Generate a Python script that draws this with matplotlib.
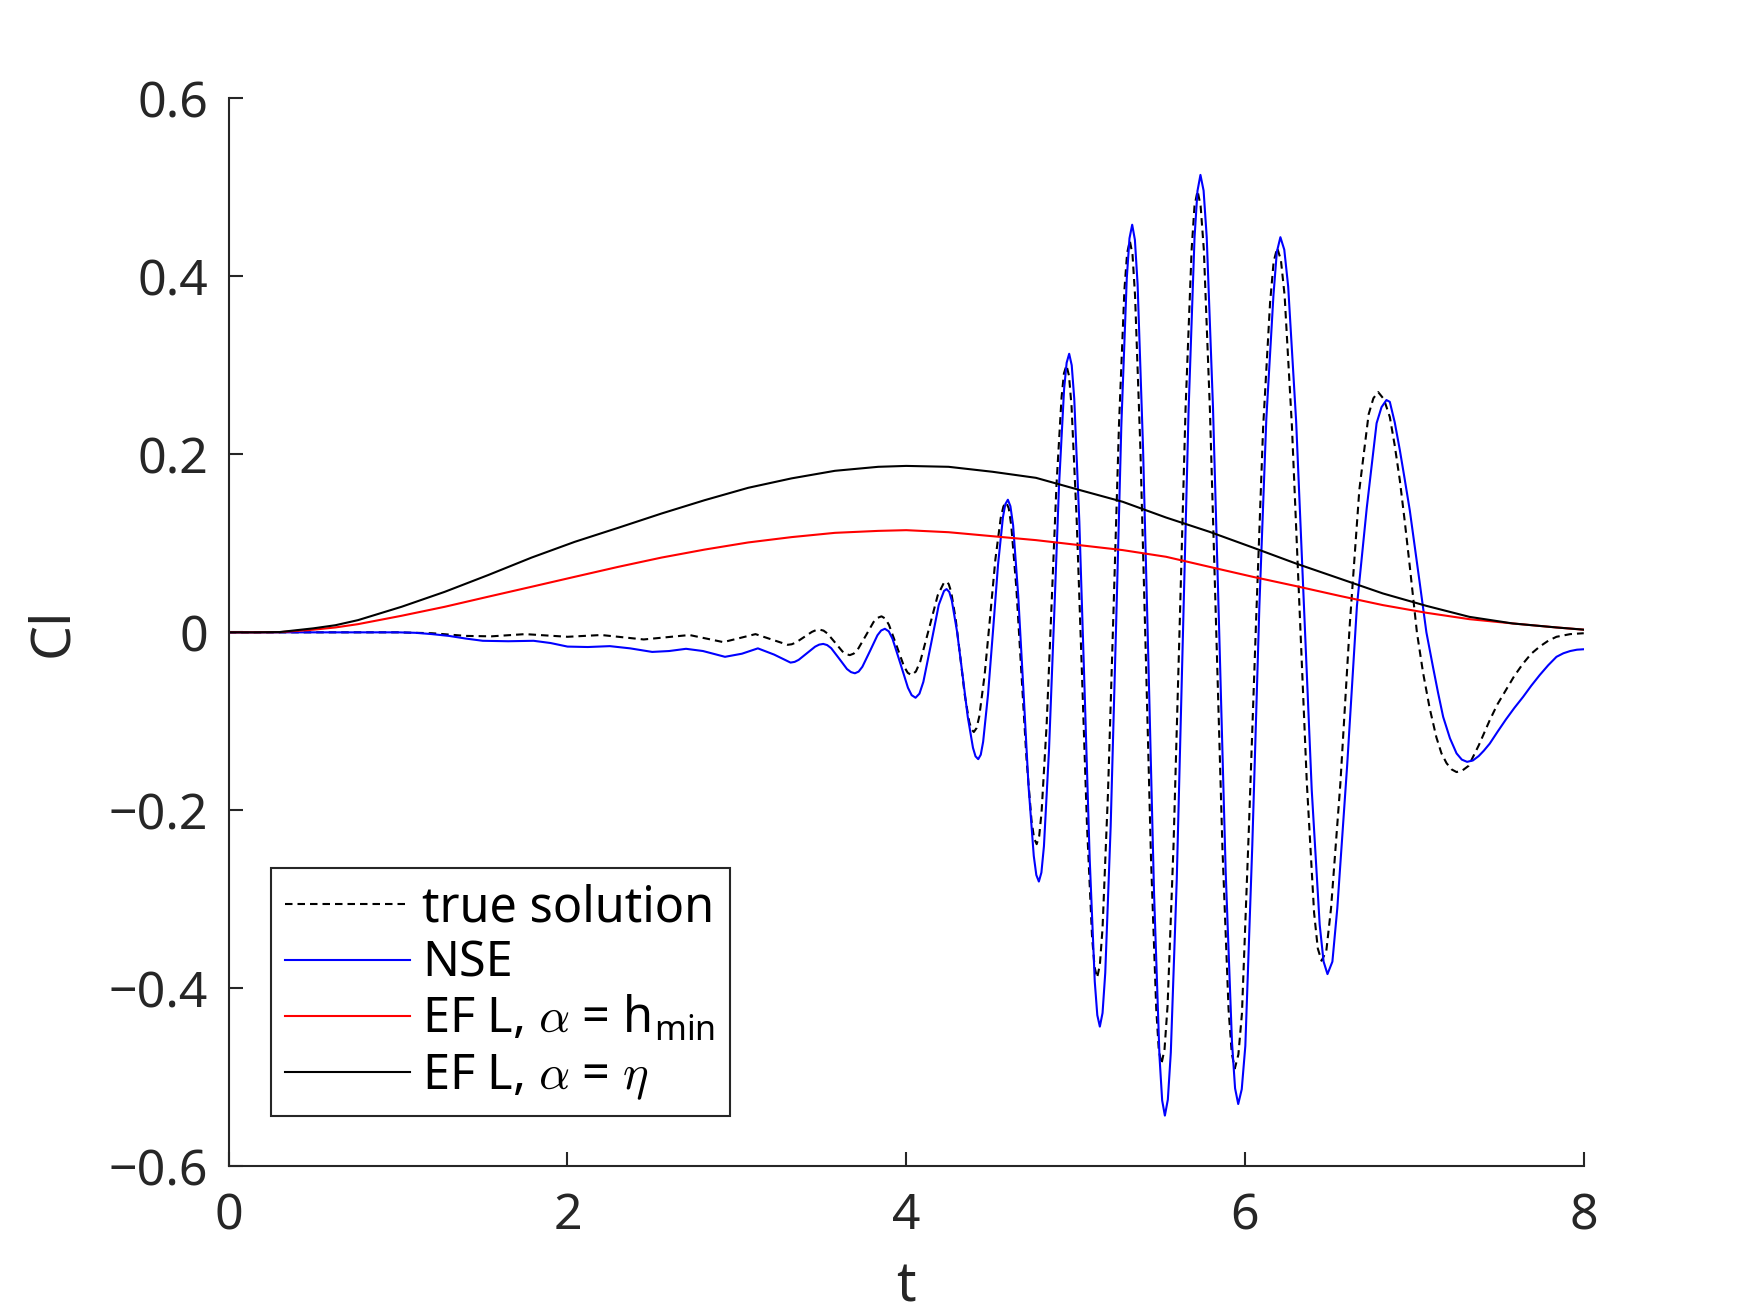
import matplotlib
matplotlib.use("Agg")
import matplotlib.pyplot as plt

# ---------------- data ----------------
# NSE (blue) : (t, Cl) samples
nse_pts = [
    (0, 0), (0.5, 0), (1.0, 0), (1.1, -0.0005), (1.2, -0.002), (1.3, -0.004), (1.4, -0.007), (1.5, -0.0095),
    (1.65, -0.010), (1.8, -0.0095), (1.9, -0.012), (2.0, -0.016), (2.12, -0.0165), (2.25, -0.0155),
    (2.37, -0.018), (2.5, -0.022), (2.6, -0.021), (2.7, -0.0185), (2.8, -0.021), (2.93, -0.0275),
    (3.03, -0.024), (3.124, -0.018), (3.22, -0.025), (3.317, -0.034), (3.341, -0.0332), (3.365, -0.0309),
    (3.414, -0.0235), (3.462, -0.0161), (3.486, -0.0138), (3.51, -0.013), (3.533, -0.0143),
    (3.557, -0.0178), (3.604, -0.0295), (3.650, -0.0412), (3.674, -0.0447), (3.697, -0.046),
    (3.719, -0.0441), (3.741, -0.0387), (3.786, -0.021), (3.830, -0.0033), (3.852, 0.0021), (3.874, 0.004),
    (3.897, 0.0011), (3.919, -0.0073), (3.965, -0.0348), (4.010, -0.0622), (4.032, -0.0706),
    (4.055, -0.0735), (4.078, -0.0689), (4.101, -0.0557), (4.147, -0.0125), (4.192, 0.0308),
    (4.223, 0.0465), (4.238, 0.0486), (4.254, 0.0454), (4.269, 0.0358), (4.300, 0.0008), (4.332, -0.0470),
    (4.363, -0.0947), (4.394, -0.1297), (4.409, -0.1393), (4.425, -0.1425), (4.440, -0.1375),
    (4.454, -0.1230), (4.483, -0.0696), (4.513, 0.0033), (4.542, 0.0761), (4.571, 0.1295), (4.585, 0.144),
    (4.600, 0.149), (4.615, 0.1417), (4.631, 0.1203), (4.661, 0.0417), (4.692, -0.0655), (4.722, -0.1728),
    (4.753, -0.2513), (4.768, -0.2727), (4.783, -0.280), (4.798, -0.2699), (4.813, -0.2403),
    (4.843, -0.1318), (4.873, 0.0165), (4.902, 0.1648), (4.932, 0.2733), (4.947, 0.3029), (4.962, 0.313),
    (4.977, 0.3001), (4.992, 0.2623), (5.022, 0.124), (5.053, -0.065), (5.083, -0.254), (5.113, -0.3923),
    (5.128, -0.4301), (5.143, -0.443), (5.159, -0.4277), (5.175, -0.3826), (5.207, -0.2177),
    (5.239, 0.0075), (5.270, 0.2328), (5.302, 0.3976), (5.318, 0.4427), (5.334, 0.458), (5.350, 0.441),
    (5.366, 0.3909), (5.398, 0.2077), (5.431, -0.0425), (5.463, -0.2928), (5.495, -0.4759),
    (5.511, -0.526), (5.527, -0.543), (5.5445, -0.525), (5.562, -0.4722), (5.597, -0.2787),
    (5.632, -0.0145), (5.667, 0.2498), (5.702, 0.4432), (5.7195, 0.496), (5.737, 0.514), (5.7556, 0.4963),
    (5.774, 0.4441), (5.811, 0.253), (5.849, -0.008), (5.886, -0.269), (5.923, -0.460), (5.9414, -0.5123),
    (5.960, -0.530), (5.9808, -0.5134), (6.002, -0.4647), (6.043, -0.24), (6.085, 0.03), (6.126, 0.24),
    (6.168, 0.3787), (6.188, 0.4274), (6.209, 0.444), (6.232, 0.4299), (6.255, 0.3885), (6.302, 0.237),
    (6.348, 0.030), (6.394, -0.177), (6.441, -0.3285), (6.464, -0.3699), (6.487, -0.384), (6.516, -0.370),
    (6.545, -0.31), (6.603, -0.15), (6.661, 0.03), (6.719, 0.14), (6.777, 0.235), (6.806, 0.253),
    (6.835, 0.261), (6.855, 0.259), (6.884, 0.236), (6.914, 0.205), (6.943, 0.172), (6.973, 0.137),
    (7.002, 0.097), (7.032, 0.055), (7.071, 0.0), (7.11, -0.039), (7.14, -0.068), (7.17, -0.095),
    (7.21, -0.119), (7.249, -0.136), (7.28, -0.143), (7.311, -0.1455), (7.345, -0.144), (7.38, -0.139),
    (7.41, -0.133), (7.445, -0.125), (7.49, -0.112), (7.54, -0.098), (7.59, -0.085), (7.642, -0.0725),
    (7.69, -0.060), (7.74, -0.048), (7.79, -0.037), (7.839, -0.0275), (7.88, -0.0235), (7.92, -0.021),
    (7.96, -0.0195), (8.0, -0.019),
]

# true solution (black dashed) : (t, Cl) samples
true_pts = [
    (0, 0), (0.5, 0), (1.0, 0), (1.2, -0.001), (1.4, -0.004), (1.55, -0.0045), (1.75, -0.002), (2.0, -0.005),
    (2.2, -0.003), (2.45, -0.008), (2.72, -0.003), (2.92, -0.011), (3.11, -0.002), (3.30, -0.014),
    (3.324, -0.0134), (3.348, -0.0115), (3.395, -0.0055), (3.443, 0.0005), (3.466, 0.0024), (3.49, 0.003),
    (3.512, 0.0019), (3.534, -0.0012), (3.579, -0.0113), (3.623, -0.0214), (3.645, -0.0245),
    (3.667, -0.0256), (3.690, -0.0239), (3.714, -0.0192), (3.761, -0.0038), (3.807, 0.0116),
    (3.831, 0.0163), (3.854, 0.018), (3.876, 0.0155), (3.898, 0.0084), (3.943, -0.015), (3.987, -0.0384),
    (4.009, -0.0455), (4.031, -0.048), (4.057, -0.044), (4.083, -0.0327), (4.135, 0.0045),
    (4.186, 0.0417), (4.221, 0.0552), (4.238, 0.057), (4.251, 0.0541), (4.265, 0.0457), (4.292, 0.0147),
    (4.319, -0.0275), (4.345, -0.0698), (4.372, -0.1007), (4.386, -0.1091), (4.399, -0.112),
    (4.415, -0.1076), (4.431, -0.0947), (4.463, -0.0475), (4.495, 0.017), (4.526, 0.0815), (4.558, 0.1287),
    (4.574, 0.1416), (4.59, 0.146), (4.605, 0.1395), (4.62, 0.1203), (4.65, 0.050), (4.68, -0.046),
    (4.71, -0.142), (4.74, -0.2123), (4.755, -0.2315), (4.77, -0.238), (4.785, -0.2289), (4.799, -0.202),
    (4.829, -0.1035), (4.858, 0.031), (4.887, 0.1655), (4.917, 0.264), (4.931, 0.2909), (4.946, 0.300),
    (4.961, 0.2883), (4.976, 0.2539), (5.006, 0.128), (5.037, -0.044), (5.067, -0.216), (5.097, -0.3419),
    (5.112, -0.3763), (5.127, -0.388), (5.143, -0.3739), (5.159, -0.3325), (5.191, -0.181), (5.224, 0.026),
    (5.256, 0.233), (5.288, 0.3845), (5.304, 0.4259), (5.32, 0.440), (5.336, 0.4243), (5.351, 0.378),
    (5.382, 0.2087), (5.414, -0.0225), (5.445, -0.2538), (5.476, -0.423), (5.491, -0.4693), (5.507, -0.485),
    (5.525, -0.4683), (5.543, -0.4193), (5.578, -0.2397), (5.614, 0.0055), (5.649, 0.2508), (5.685, 0.4303),
    (5.702, 0.4793), (5.720, 0.496), (5.738, 0.4792), (5.757, 0.4299), (5.793, 0.2495), (5.830, 0.003),
    (5.867, -0.2435), (5.903, -0.4239), (5.922, -0.4732), (5.940, -0.490), (5.961, -0.4743),
    (5.982, -0.4282), (6.023, -0.22), (6.065, 0.01), (6.107, 0.23), (6.148, 0.3702), (6.169, 0.4163),
    (6.19, 0.432), (6.212, 0.4184), (6.234, 0.3783), (6.277, 0.2317), (6.321, 0.0315), (6.365, -0.1688),
    (6.408, -0.3153), (6.430, -0.3554), (6.452, -0.369), (6.480, -0.3581), (6.508, -0.31), (6.563, -0.17),
    (6.619, 0.01), (6.675, 0.16), (6.730, 0.245), (6.758, 0.263), (6.786, 0.270), (6.82, 0.262),
    (6.855, 0.242), (6.884, 0.21), (6.914, 0.171), (6.943, 0.125), (6.973, 0.074), (7.015, 0.0),
    (7.051, -0.045), (7.09, -0.085), (7.13, -0.118), (7.16, -0.136), (7.19, -0.147), (7.22, -0.154),
    (7.249, -0.157), (7.285, -0.155), (7.32, -0.150), (7.38, -0.127), (7.445, -0.0987), (7.49, -0.081),
    (7.54, -0.065), (7.59, -0.049), (7.642, -0.035), (7.69, -0.024), (7.74, -0.016), (7.79, -0.0095),
    (7.839, -0.005), (7.92, -0.002), (8.0, -0.001),
]

t_ef = [0, 0.15, 0.3, 0.5, 0.63, 0.763, 1.02, 1.275, 1.531, 1.788, 2.043, 2.30, 2.555, 2.81, 3.067, 3.323,
        3.579, 3.835, 4.0, 4.25, 4.51, 4.766, 5.022, 5.278, 5.534, 5.79, 6.046, 6.30, 6.558, 6.814, 7.07,
        7.325, 7.58, 7.838, 8.0]
cl_hmin = [0, 0, 0.0002, 0.003, 0.0055, 0.0092, 0.0186, 0.0287, 0.040, 0.0512, 0.0624, 0.0736, 0.084, 0.093,
           0.101, 0.107, 0.1118, 0.114, 0.1148, 0.1125, 0.108, 0.1036, 0.098, 0.0924, 0.0849, 0.0736, 0.0624,
           0.052, 0.041, 0.0306, 0.022, 0.0148, 0.010, 0.0055, 0.003]
cl_eta = [0, 0, 0.0003, 0.0045, 0.008, 0.0137, 0.0287, 0.0455, 0.0643, 0.084, 0.1017, 0.1175, 0.1335, 0.1485,
          0.1624, 0.173, 0.1815, 0.186, 0.187, 0.186, 0.1804, 0.1736, 0.160, 0.1467, 0.129, 0.113, 0.0953,
          0.0774, 0.0605, 0.0437, 0.0298, 0.0174, 0.010, 0.0055, 0.003]

t_nse = [p[0] for p in nse_pts]
cl_nse = [p[1] for p in nse_pts]
t_true = [p[0] for p in true_pts]
cl_true = [p[1] for p in true_pts]

labels = ["true solution", "NSE",
          r"EF L, $\alpha$ = h$_{\mathregular{min}}$",
          r"EF L, $\alpha$ = $\eta$"]
xticks = [0, 2, 4, 6, 8]
yticks = [-0.6, -0.4, -0.2, 0, 0.2, 0.4, 0.6]
yticklabels = ["\u22120.6", "\u22120.4", "\u22120.2", "0", "0.2", "0.4", "0.6"]

# ---------------- style ----------------
plt.rcParams["font.family"] = ["Noto Sans", "DejaVu Sans"]
plt.rcParams["mathtext.fontset"] = "cm"
gray = "#262626"
fs = 18

fig = plt.figure(figsize=(8.75, 6.565), dpi=200)
ax = fig.add_axes([0.1307, 0.1117, 0.7743, 0.8134])

lw = 0.75
ax.plot(t_true, cl_true, color="black", lw=lw, ls=(0, (3.6, 2.4)), label=labels[0])
ax.plot(t_nse, cl_nse, color=(0, 0, 1), lw=lw, label=labels[1])
ax.plot(t_ef, cl_hmin, color=(1, 0, 0), lw=lw, label=labels[2])
ax.plot(t_ef, cl_eta, color="black", lw=lw, label=labels[3])

ax.set_xlim(0, 8)
ax.set_ylim(-0.6, 0.6)
ax.set_xticks(xticks)
ax.set_yticks(yticks)
ax.set_xticklabels([str(v) for v in xticks])
ax.set_yticklabels(yticklabels)

for s in ["top", "right"]:
    ax.spines[s].set_visible(False)
for s in ["left", "bottom"]:
    ax.spines[s].set_color(gray)
    ax.spines[s].set_linewidth(0.75)

ax.tick_params(direction="in", length=4.9, width=0.75, color=gray, labelcolor=gray,
               labelsize=fs)
ax.tick_params(axis="y", pad=7.5)
ax.tick_params(axis="x", pad=9)

ax.set_xlabel("t", fontsize=19.5, color=gray, labelpad=6.5)
ax.set_ylabel("Cl", fontsize=20, color=gray, labelpad=10)

leg = ax.legend(loc="lower left", bbox_to_anchor=(0.031, 0.047), borderaxespad=0,
                fontsize=17.5, frameon=True, fancybox=False, framealpha=1,
                handlelength=2.57, handletextpad=0.25, borderpad=0.3, labelspacing=0.12)
leg.get_frame().set_edgecolor(gray)
leg.get_frame().set_linewidth(0.75)
for txt in leg.get_texts():
    txt.set_color("black")

fig.savefig("out.png", dpi=200, facecolor="white")
